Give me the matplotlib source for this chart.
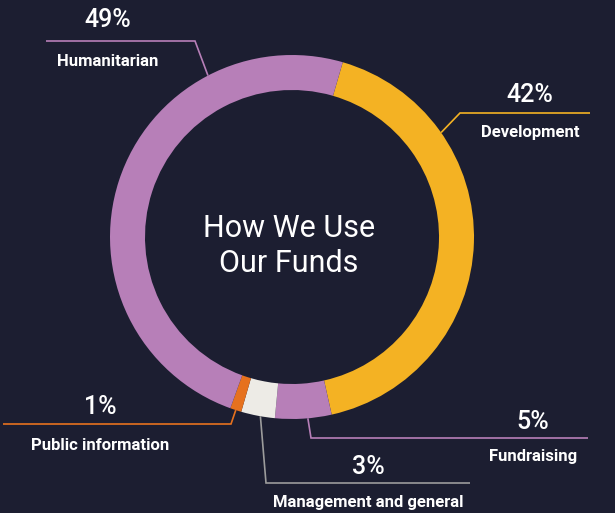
import numpy as np
import matplotlib
matplotlib.use("Agg")
from matplotlib import pyplot as plt

# Datos del grafico
labels = ["Development", "Fundraising", "Management and general",
          "Public information", "Humanitarian"]
values = [42, 5, 3, 1, 49]
pcts = ["42%", "5%", "3%", "1%", "49%"]
colors = ["#f4b223", "#b77fb8", "#edebe6", "#e6711e", "#b77fb8"]
line_colors = ["#f4b223", "#b77fb8", "#9c9c9c", "#e6711e", "#b77fb8"]

bg = "#1c1e31"
W, H = 615, 513
cx, cy = 292, H - 237  # centro del anillo (y hacia arriba)
R, ancho = 182, 35

plt.rcParams['font.family'] = ['Roboto', 'DejaVu Sans']

fig = plt.figure(figsize=(W / 100, H / 100), dpi=100, facecolor=bg)
ax = fig.add_axes([0, 0, 1, 1])
ax.set_facecolor(bg)

ax.pie(values, colors=colors, startangle=90 - 16.2, counterclock=False,
       radius=R, center=(cx, cy),
       wedgeprops=dict(width=ancho, edgecolor="none", linewidth=0))

# Lineas guia: angulo de anclaje (desde arriba, sentido horario), codo, fin
anchor_ang = [55, 175, 190, 198, -27.5]
elbows = [(460, 113), (311, 438), (266, 483), (231, 424), (195, 41)]
ends_x = [590, 588, 470, 3, 46]
pct_pos = [(530, 95), (533, 422), (368, 467), (100, 407), (108, 20)]
lab_pos = [(530, 132), (533, 456), (368, 502), (100, 445), (108, 62)]

for i in range(len(values)):
    a = np.radians(anchor_ang[i])
    x0 = cx + R * np.sin(a)
    y0 = cy + R * np.cos(a)
    ex, ey = elbows[i]
    ax.plot([x0, ex, ends_x[i]], [y0, H - ey, H - ey],
            color=line_colors[i], lw=1.2, solid_capstyle="butt",
            solid_joinstyle="miter")
    px, py = pct_pos[i]
    ax.text(px, H - py, pcts[i], color="white", fontsize=18,
            fontweight="medium", ha="center", va="center")
    lx, ly = lab_pos[i]
    ax.text(lx, H - ly, labels[i], color="white", fontsize=12,
            fontweight="bold", ha="center", va="center")

# Texto central
ax.text(cx - 3, H - 246, "How We Use\nOur Funds", color="white", fontsize=22,
        fontweight="normal", ha="center", va="center", linespacing=1.3)

ax.set_xlim(0, W)
ax.set_ylim(0, H)
ax.set_aspect("equal")
ax.axis("off")

fig.savefig("out.png", dpi=100, facecolor=bg)
